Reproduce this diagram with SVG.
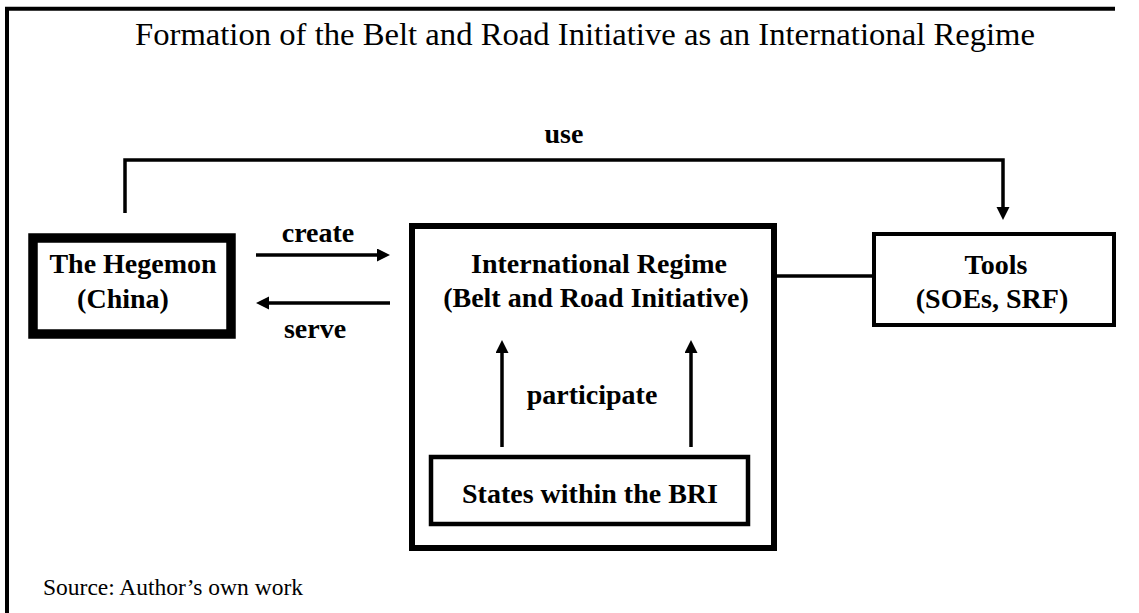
<svg xmlns="http://www.w3.org/2000/svg" width="1139" height="613" viewBox="0 0 1139 613">
  <style>
    text { font-family: "Liberation Serif", "Times New Roman", serif; fill: #000; }
    .lbl { font-weight: bold; font-size: 28px; text-anchor: middle; }
    .box { fill: #fff; stroke: #000; }
    .link { fill: none; stroke: #000; stroke-width: 3.5; }
  </style>
  <defs>
    <marker id="head" markerUnits="userSpaceOnUse" markerWidth="14" markerHeight="14" refX="0" refY="6.5" orient="auto">
      <path d="M0,0 L13,6.5 L0,13 Z" fill="#000"/>
    </marker>
  </defs>

  <rect width="1139" height="613" fill="#fff"/>

  <!-- frame: top rule and left rule -->
  <g id="frame" stroke="#000" stroke-width="4">
    <line x1="5" y1="8.7" x2="1115" y2="8.7"/>
    <line x1="7" y1="7" x2="7" y2="613"/>
  </g>

  <text id="title" x="135" y="45" font-size="32.5" textLength="900" lengthAdjust="spacingAndGlyphs">Formation of the Belt and Road Initiative as an International Regime</text>

  <g id="hegemon">
    <rect class="box" x="33" y="238" width="198" height="96" stroke-width="9.5"/>
    <text class="lbl" x="133" y="273">The Hegemon</text>
    <text class="lbl" x="123" y="308">(China)</text>
  </g>

  <g id="regime">
    <rect class="box" x="412" y="226" width="362" height="322" stroke-width="6"/>
    <text class="lbl" x="599" y="273">International Regime</text>
    <text class="lbl" x="596" y="307">(Belt and Road Initiative)</text>
  </g>

  <g id="states">
    <rect class="box" x="431" y="457" width="317" height="67" stroke-width="4.5"/>
    <text class="lbl" x="590" y="503">States within the BRI</text>
  </g>

  <g id="tools">
    <rect class="box" x="874" y="234" width="240" height="91" stroke-width="4"/>
    <text class="lbl" x="996" y="274">Tools</text>
    <text class="lbl" x="992" y="308">(SOEs, SRF)</text>
  </g>

  <!-- connectors, drawn over the boxes -->
  <g id="connectors">
    <path class="link" d="M125,213 V160 H1003 V207" marker-end="url(#head)"/>
    <line class="link" x1="256" y1="255" x2="377" y2="255" marker-end="url(#head)"/>
    <line class="link" x1="390" y1="303" x2="269" y2="303" marker-end="url(#head)"/>
    <line class="link" x1="777" y1="276" x2="872" y2="276"/>
    <line class="link" x1="502" y1="447" x2="502" y2="353" marker-end="url(#head)"/>
    <line class="link" x1="691" y1="447" x2="691" y2="353" marker-end="url(#head)"/>
    <text class="lbl" x="564" y="143">use</text>
    <text class="lbl" x="318" y="242">create</text>
    <text class="lbl" x="315" y="338">serve</text>
    <text class="lbl" x="592" y="404">participate</text>
  </g>

  <text id="source" x="43" y="595" font-size="23.5">Source: Author’s own work</text>
</svg>
